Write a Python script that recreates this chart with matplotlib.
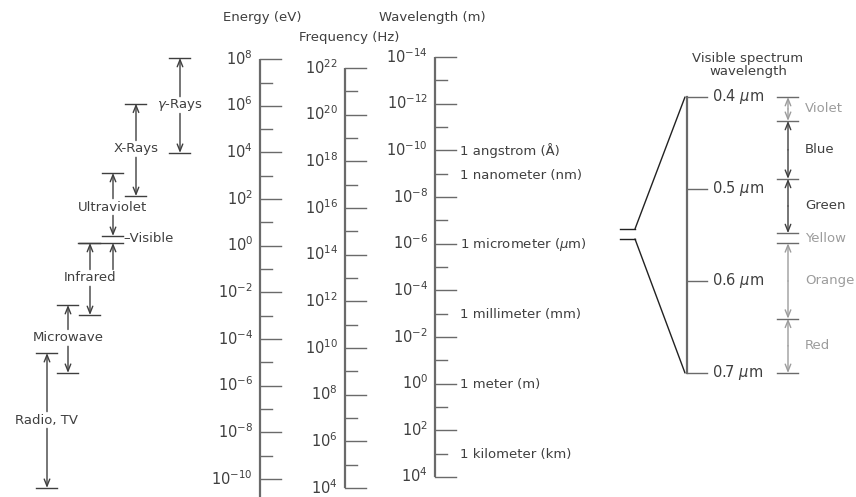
import numpy as np
import matplotlib.pyplot as plt
from matplotlib.patches import ConnectionPatch

plt.rcParams["font.family"] = "DejaVu Sans"
plt.rcParams["mathtext.default"] = "regular"

# scale exponents (labelled at even, small tick at odd)
energy_exp = np.arange(8, -11, -1)      # eV
freq_exp = np.arange(22, 3, -1)         # Hz
wave_exp = np.arange(-14, 5)            # m

# named wavelengths
name_exp = [-10, -9, -6, -3, 0, 3]
name_labels = ["1 angstrom (Å)", "1 nanometer (nm)", "1 micrometer ($\\mathit{\\mu}$m)",
               "1 millimeter (mm)", "1 meter (m)", "1 kilometer (km)"]

# spectrum bands, in log10(wavelength / m)
band_names = ["$\\mathit{\\gamma}$-Rays", "X-Rays", "Ultraviolet", "Infrared", "Microwave", "Radio, TV"]
band_top = [-13.96, -12.0, -9.03, -6.03, -3.37, -1.31]
band_bottom = [-9.89, -8.04, -6.33, -2.94, -0.46, 4.47]
band_label = [-11.94, -10.06, -7.57, -4.53, -1.96, 1.56]
visible_label = -6.2
bracket_log = [-6.63, -6.2]

# visible spectrum (micrometers)
vis_ticks = [0.4, 0.5, 0.6, 0.7]
vis_bounds = [0.400, 0.426, 0.489, 0.548, 0.559, 0.641, 0.700]
vis_names = ["Violet", "Blue", "Green", "Yellow", "Orange", "Red"]
vis_dark = [False, True, True, False, False, False]
vis_arrow = [True, True, True, False, True, True]

# layout (pixels across an 856 px wide figure)
W, H = 856, 497
band_x = [180, 136, 113, 90, 68, 47]
x_energy, x_freq, x_wave, x_vis, x_colour = 260, 345, 435, 687, 788

DARK = "#3f3f3f"
LINE = "#6a6a6a"
LIGHT = "#9c9c9c"
FS = 9.5
TFS = 10.5

fig = plt.figure(figsize=(W / 100, H / 100), dpi=100)
ax = fig.add_axes([0, 0, 1, 1])
ax.set_xlim(0, W)
ax.set_ylim(4.86, -16.443)
ax.axis("off")

ax2 = fig.add_axes([0, 0, 1, 1])
ax2.set_xlim(0, W)
ax2.set_ylim(0.8348, 0.2946)
ax2.axis("off")
ax2.patch.set_alpha(0)


def log_scale(a, x0, ys, exps, top, bottom):
    a.plot([x0, x0], [top, bottom], color=LINE, lw=1.6, solid_capstyle="butt")
    for y, e in zip(ys, exps):
        major = e % 2 == 0
        a.plot([x0, x0 + (21 if major else 12)], [y, y], color=LINE, lw=1.0)
        if major:
            a.annotate(f"$10^{{{e}}}$".replace("-", "\u2212"), xy=(x0, y),
                       xytext=(-5, -4), textcoords="offset points",
                       ha="right", va="baseline", fontsize=TFS, color=DARK)


# energy scale: lambda = 1.2398e-6 / E
e_pos = np.log10(1.2398e-6) - energy_exp
log_scale(ax, x_energy, e_pos, energy_exp, e_pos[0], 4.86)

# frequency scale: lambda = c / f
f_pos = np.log10(2.998e8) - freq_exp
log_scale(ax, x_freq, f_pos, freq_exp, f_pos[0], f_pos[-1])

# wavelength scale
log_scale(ax, x_wave, wave_exp.astype(float), wave_exp, wave_exp[0], wave_exp[-1])
for e, lab in zip(name_exp, name_labels):
    ax.annotate(lab, xy=(x_wave + 25, e), xytext=(0, -3.5), textcoords="offset points",
                ha="left", va="baseline", fontsize=FS, color=DARK)

fig.text(262 / W, 1 - 17 / H, "Energy (eV)", ha="center", va="center", fontsize=FS, color=DARK)
fig.text(349 / W, 1 - 37 / H, "Frequency (Hz)", ha="center", va="center", fontsize=FS, color=DARK)
fig.text(432 / W, 1 - 17 / H, "Wavelength (m)", ha="center", va="center", fontsize=FS, color=DARK)

# spectrum bands on the left
arrow = dict(arrowstyle="->,head_length=0.5,head_width=0.2", color=DARK, lw=1.0,
             shrinkA=0, shrinkB=0, mutation_scale=10)
gap = 0.36
for name, x, t, b, lab in zip(band_names, band_x, band_top, band_bottom, band_label):
    ax.plot([x - 10.5, x + 10.5], [t, t], color=DARK, lw=1.0)
    ax.plot([x - 10.5, x + 10.5], [b, b], color=DARK, lw=1.0)
    ax.annotate("", xy=(x, t), xytext=(x, lab - gap), arrowprops=arrow)
    ax.annotate("", xy=(x, b), xytext=(x, lab + gap), arrowprops=arrow)
    ax.text(x, lab, name, ha="center", va="center", fontsize=FS, color=DARK)

# infrared bar spans across to the visible arrow
ir = band_names.index("Infrared")
ax.plot([78, 123], [band_top[ir], band_top[ir]], color=DARK, lw=1.0)
ax.annotate("", xy=(band_x[2], band_top[ir]), xytext=(band_x[2], band_label[ir] - gap),
            arrowprops=arrow)
ax.text(123, visible_label, "\u2013Visible", ha="left", va="center", fontsize=FS, color=DARK)

# bracket pointing to the visible spectrum
for y in bracket_log:
    ax.plot([620, 635], [y, y], color="#222222", lw=1.0)
for y, v in zip(bracket_log, [vis_ticks[0], vis_ticks[-1]]):
    fig.add_artist(ConnectionPatch(xyA=(635, y), coordsA=ax.transData,
                                   xyB=(685, v), coordsB=ax2.transData,
                                   color="#222222", lw=1.0))

# visible spectrum scale
ax2.plot([x_vis, x_vis], [vis_ticks[0], vis_ticks[-1]], color=LINE, lw=1.6)
for v in vis_ticks:
    ax2.plot([x_vis, x_vis + 20], [v, v], color=LINE, lw=1.0)
    ax2.text(x_vis + 25, v, f"{v:.1f} $\\mathit{{\\mu}}$m", ha="left", va="center",
             fontsize=TFS, color=DARK)
fig.text(748 / W, 1 - 65 / H, "Visible spectrum\nwavelength", ha="center", va="center",
         fontsize=FS, color=DARK, linespacing=1.05)

for i, name in enumerate(vis_names):
    c = DARK if vis_dark[i] else LIGHT
    t, b = vis_bounds[i], vis_bounds[i + 1]
    mid = (t + b) / 2
    if vis_arrow[i]:
        a = dict(arrow, color=c)
        ax2.annotate("", xy=(x_colour, t), xytext=(x_colour, mid), arrowprops=a)
        ax2.annotate("", xy=(x_colour, b), xytext=(x_colour, mid), arrowprops=a)
    ax2.text(x_colour + 17, mid, name, ha="left", va="center", fontsize=FS, color=c)
for v in vis_bounds:
    ax2.plot([x_colour - 10.5, x_colour + 10.5], [v, v], color=LINE, lw=1.0)

fig.savefig("out.png", dpi=100)
